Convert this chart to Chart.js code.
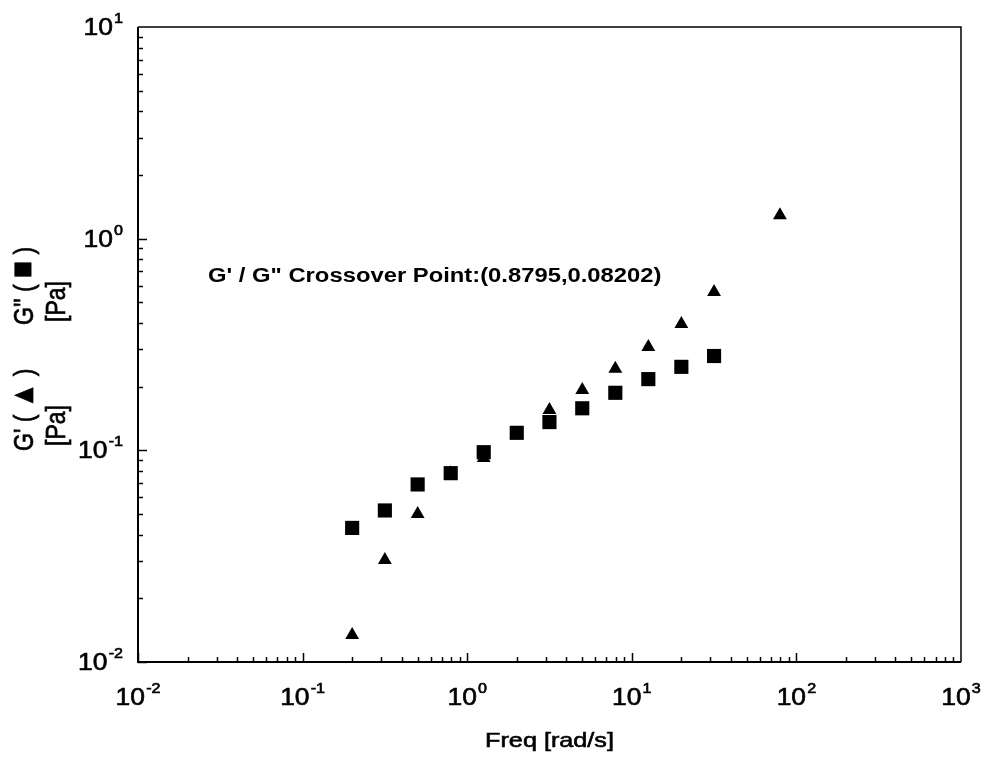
<!DOCTYPE html>
<html>
<head>
<meta charset="utf-8">
<script src="https://cdn.jsdelivr.net/npm/chart.js@4/dist/chart.umd.min.js"></script>
<style>
  html, body { margin: 0; padding: 0; background: #fff; }
  #wrap { width: 985px; height: 760px; }
</style>
</head>
<body>
<div id="wrap"><canvas id="chart" width="985" height="760"></canvas></div>
<script>
// frequency sweep, rad/s
const freq = [0.2, 0.316, 0.5, 0.794, 1.26, 2, 3.16, 5, 7.94, 12.6, 20, 31.6];
const freqG1 = [0.2, 0.316, 0.5, 0.794, 1.26, 2, 3.16, 5, 7.94, 12.6, 20, 31.6, 79.4];
// loss modulus G'' (squares), Pa
const gLoss = [0.043, 0.052, 0.069, 0.078, 0.098, 0.121, 0.136, 0.158, 0.187, 0.217, 0.248, 0.279];
// storage modulus G' (triangles), Pa
const gStorage = [0.0134, 0.0303, 0.050, 0.078, 0.092, 0.119, 0.155, 0.193, 0.243, 0.308, 0.395, 0.56, 1.29];
// decade exponents for tick labels
const xExps = [-2, -1, 0, 1, 2, 3];
const yExps = [-2, -1, 0, 1];
const crossoverText = 'G\' / G" Crossover Point:(0.8795,0.08202)';

const FONT = '"Liberation Sans", Arial, sans-serif';
const SX = 1.15; // glyphs run a bit wide

function txt(ctx, s, x, y, size, opts) {
  opts = opts || {};
  ctx.save();
  ctx.translate(x, y);
  if (opts.rot) ctx.rotate(opts.rot);
  if (opts.rot) ctx.scale(1, opts.sx || SX); else ctx.scale(opts.sx || SX, 1);
  ctx.font = (opts.bold ? 'bold ' : '') + size + 'px ' + FONT;
  ctx.textAlign = opts.align || 'left';
  ctx.textBaseline = 'alphabetic';
  ctx.fillStyle = '#000';
  ctx.fillText(s, 0, 0);
  if (!opts.bold) {
    ctx.strokeStyle = '#000';
    ctx.lineWidth = 0.6;
    ctx.strokeText(s, 0, 0);
  }
  ctx.restore();
}

// vertical label made of pieces [text, size], written bottom to top
function vLabel(ctx, parts, x, y) {
  let off = 0;
  parts.forEach(p => {
    ctx.font = p[1] + 'px ' + FONT;
    const w = ctx.measureText(p[0]).width;
    txt(ctx, p[0], x, y - off, p[1], { rot: -Math.PI / 2, sx: 1.2 });
    off += w;
  });
}

// "10" with a raised exponent; align is 'center' or 'right'
function powLabel(ctx, exp, x, y, align) {
  ctx.font = '23px ' + FONT;
  const w1 = ctx.measureText('10').width;
  const es = exp < 0 ? '-' + (-exp) : String(exp);
  ctx.font = '14px ' + FONT;
  const w2 = ctx.measureText(es).width;
  const total = (w1 + 1 + w2) * SX;
  const x0 = align === 'right' ? x - total : x - total / 2;
  txt(ctx, '10', x0, y, 23);
  txt(ctx, es, x0 + (w1 + 1) * SX, y - 12, 14);
}

const axesPlugin = {
  id: 'axesPlugin',
  afterDraw(chart) {
    const ctx = chart.ctx, a = chart.chartArea;
    const xs = chart.scales.x, ys = chart.scales.y;
    ctx.save();
    ctx.strokeStyle = '#000';
    // frame
    ctx.lineWidth = 1.5;
    ctx.beginPath();
    ctx.moveTo(a.left, a.top); ctx.lineTo(a.right, a.top); ctx.lineTo(a.right, a.bottom);
    ctx.stroke();
    ctx.lineWidth = 2;
    ctx.beginPath();
    ctx.moveTo(a.left, a.top); ctx.lineTo(a.left, a.bottom); ctx.lineTo(a.right, a.bottom);
    ctx.stroke();
    // inward ticks on bottom and left
    ctx.lineWidth = 1.5;
    ctx.beginPath();
    xExps.forEach(e => {
      if (e === xExps[xExps.length - 1]) return;
      for (let m = 1; m <= 9; m++) {
        const px = Math.round(xs.getPixelForValue(m * Math.pow(10, e))) + 0.5;
        const len = m === 1 ? 9 : 5;
        ctx.moveTo(px, a.bottom); ctx.lineTo(px, a.bottom - len);
      }
    });
    yExps.forEach(e => {
      if (e === yExps[yExps.length - 1]) return;
      for (let m = 1; m <= 9; m++) {
        const py = Math.round(ys.getPixelForValue(m * Math.pow(10, e))) + 0.5;
        const len = m === 1 ? 9 : 5;
        ctx.moveTo(a.left, py); ctx.lineTo(a.left + len, py);
      }
    });
    ctx.stroke();
    ctx.restore();

    xExps.forEach(e => powLabel(ctx, e, xs.getPixelForValue(Math.pow(10, e)), 705, 'center'));
    yExps.forEach(e => powLabel(ctx, e, 123, ys.getPixelForValue(Math.pow(10, e)) + 8, 'right'));

    txt(ctx, 'Freq [rad/s]', (a.left + a.right) / 2, 747, 21, { align: 'center', sx: 1.2 });

    vLabel(ctx, [['G\'\' ', 23], ['( ', 23], ['\u25A0', 28], [' )', 23]], 33, 325);
    vLabel(ctx, [['[Pa]', 23]], 65, 322);
    vLabel(ctx, [['G\' ', 23], ['( ', 23], ['\u25B2', 26], [' )', 23]], 33, 451);
    vLabel(ctx, [['[Pa]', 23]], 65, 446);

    txt(ctx, crossoverText, 208, 282, 20, { bold: true, sx: 1.19 });
  }
};

new Chart(document.getElementById('chart'), {
  type: 'scatter',
  data: {
    datasets: [
      {
        label: "G''",
        data: freq.map((f, i) => ({ x: f, y: gLoss[i] })),
        pointStyle: 'rect',
        pointRadius: 10,
        pointBorderWidth: 0,
        backgroundColor: '#000',
        borderColor: '#000'
      },
      {
        label: "G'",
        data: freqG1.map((f, i) => ({ x: f, y: gStorage[i] })),
        pointStyle: 'triangle',
        pointRadius: 8,
        pointBorderWidth: 0,
        backgroundColor: '#000',
        borderColor: '#000'
      }
    ]
  },
  options: {
    responsive: false,
    animation: false,
    layout: { padding: { left: 138, top: 27, right: 24, bottom: 98 } },
    plugins: { legend: { display: false }, tooltip: { enabled: false } },
    scales: {
      x: { type: 'logarithmic', min: 0.01, max: 1000, display: false },
      y: { type: 'logarithmic', min: 0.01, max: 10, display: false }
    }
  },
  plugins: [axesPlugin]
});
</script>
</body>
</html>
